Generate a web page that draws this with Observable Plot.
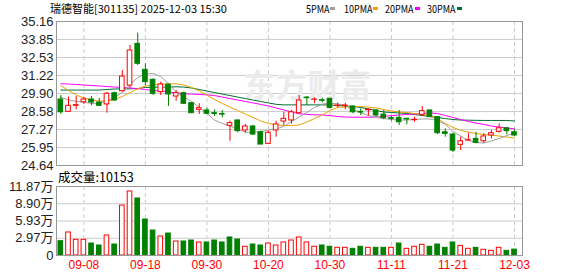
<!DOCTYPE html>
<html><head><meta charset="utf-8">
<script src="https://cdn.jsdelivr.net/npm/d3@7"></script>
<script src="https://cdn.jsdelivr.net/npm/@observablehq/plot@0.6"></script>
<style>
body{margin:0;background:#fff;}
#wrap{position:relative;width:578px;height:276px;overflow:hidden;font-family:"Noto Sans CJK SC",sans-serif;}
#main,#vol{position:absolute;left:0;}
#main{top:0}#vol{top:176px}
.t{position:absolute;white-space:nowrap;color:#000;line-height:16px;}
.sw{position:absolute;width:5px;height:3px;top:7px;}
.sq{display:inline-block;transform:scaleX(0.82);transform-origin:left center;}
</style></head><body><div id="wrap">
<div id="main"></div><div id="vol"></div>
<div class="t" style="left:50px;top:0;font-size:11px;">瑞德智能[301135] 2025-12-03 15:30</div>
<div class="t" style="left:306px;top:0;font-size:11px;"><span class="sq">5PMA</span></div>
<div class="sw" style="left:330px;background:#a0a0a0"></div>
<div class="t" style="left:344px;top:0;font-size:11px;"><span class="sq">10PMA</span></div>
<div class="sw" style="left:373px;background:#f0a000"></div>
<div class="t" style="left:385px;top:0;font-size:11px;"><span class="sq">20PMA</span></div>
<div class="sw" style="left:415px;background:#ff00ff"></div>
<div class="t" style="left:427px;top:0;font-size:11px;"><span class="sq">30PMA</span></div>
<div class="sw" style="left:457px;background:#006e30"></div>
<div class="t" style="left:58px;top:169px;font-size:12.5px;">成交量:10153</div>
</div>
<script>
const dates = ["09-03","09-04","09-05","09-08","09-09","09-10","09-11","09-12","09-15","09-16",
"09-17","09-18","09-19","09-22","09-23","09-24","09-25","09-26","09-29","09-30",
"10-09","10-10","10-13","10-14","10-15","10-16","10-17","10-20","10-21","10-22",
"10-23","10-24","10-27","10-28","10-29","10-30","10-31","11-03","11-04","11-05",
"11-06","11-07","11-10","11-11","11-12","11-13","11-14","11-17","11-18","11-19",
"11-20","11-21","11-24","11-25","11-26","11-27","11-28","12-01","12-02","12-03"];
const xTickLabels = ["09-08","09-18","09-30","10-20","10-30","11-11","11-21","12-03"];
const open  = [29.46,28.56,29.00,29.26,29.46,29.24,29.10,29.92,30.07,30.48,
33.53,31.63,30.90,30.00,30.54,29.68,29.92,29.19,28.71,28.66,
28.46,28.40,27.54,27.93,27.20,27.49,27.07,26.22,27.20,27.85,
27.93,28.46,29.60,29.44,29.41,29.51,28.98,28.98,28.95,28.56,
28.68,28.66,28.36,28.10,28.12,28.05,27.95,28.34,28.66,28.17,
27.07,26.90,26.15,26.46,26.58,26.41,26.83,27.10,27.36,27.07];
const high  = [29.75,29.63,29.68,29.63,29.68,29.53,30.00,30.00,31.58,33.41,
34.31,32.07,30.97,30.73,30.61,30.12,30.00,29.24,29.15,28.83,
28.71,28.66,27.88,27.98,27.64,27.58,27.15,27.15,27.88,28.53,
28.66,29.75,29.68,29.58,29.56,29.56,29.19,29.19,29.02,28.78,
28.78,28.71,28.66,28.22,28.66,28.10,28.17,28.95,28.71,28.22,
27.32,27.00,26.71,27.00,27.07,26.97,27.20,27.68,27.36,27.25];
const low   = [28.37,28.56,28.71,29.10,29.00,28.95,28.46,29.34,30.00,30.30,
31.94,30.48,29.75,29.75,28.95,29.34,29.10,28.44,28.37,28.37,
28.22,28.12,26.41,27.03,27.00,26.83,26.17,26.22,26.71,27.56,
27.68,28.41,29.02,29.15,29.22,28.78,28.85,28.71,28.41,28.29,
28.24,28.17,27.98,27.88,27.56,27.61,27.80,28.22,28.17,26.90,
26.71,25.58,25.73,26.46,26.22,26.27,26.59,27.00,26.88,26.78];
const close = [28.53,29.00,29.05,29.46,29.24,29.00,29.88,29.39,31.14,33.04,
32.07,30.73,29.88,30.56,29.83,29.92,29.15,28.46,28.83,28.42,
28.40,28.36,27.73,27.15,27.49,26.90,26.17,27.03,27.64,28.05,
28.53,29.39,29.56,29.46,29.37,28.85,29.02,29.02,28.53,28.51,
28.71,28.29,28.10,28.05,27.80,28.00,27.98,28.61,28.17,27.00,
26.95,25.73,26.41,26.49,26.29,26.76,27.00,27.36,27.15,26.83];
const volume = [24600,39600,27000,27000,20600,17200,34400,18900,86000,110100,
98100,61900,43000,32700,37800,24100,24100,25800,22400,22400,
25800,22400,31000,27500,15000,18900,17200,20600,17200,22400,
25800,31000,22400,15000,17200,15000,13200,13200,11500,15000,
13200,13200,13200,13200,20600,11500,15000,18400,15000,18900,
13200,22400,16600,11500,13200,9800,8000,13200,8000,10153];
const volUp = [0,1,1,1,0,0,1,0,1,1, 0,0,0,1,0,1,0,0,1,0, 0,0,0,0,1,0,0,1,1,1,
1,1,1,1,0,0,1,1,0,0, 1,0,0,1,0,1,1,1,0,0, 0,0,1,1,0,1,1,1,0,0];
const ma5 = [29.63,29.43,29.32,29.27,29.17,29.20,29.35,29.61,29.97,30.56,
31.07,31.32,31.36,31.14,30.63,30.01,29.64,29.32,28.88,28.44,
27.96,27.71,27.52,27.31,27.07,27.07,27.12,27.23,27.31,27.49,
27.85,28.18,28.51,28.88,29.13,29.19,29.15,29.02,28.73,28.51,
28.29,28.15,28.07,28.00,27.96,27.96,28.00,28.04,28.04,27.93,
27.64,27.12,26.79,26.47,26.32,26.28,26.43,26.61,26.83,27.00];
const ma10 = [30.48,30.12,29.79,29.57,29.42,29.35,29.34,29.46,29.68,29.97,
30.23,30.45,30.52,30.59,30.61,30.61,30.52,30.34,30.08,29.79,
29.46,29.17,28.91,28.66,28.40,28.15,27.89,27.71,27.60,27.56,
27.56,27.60,27.82,28.07,28.33,28.66,28.88,28.91,28.95,28.95,
28.91,28.84,28.73,28.62,28.55,28.51,28.44,28.37,28.29,28.04,
27.71,27.42,27.20,27.09,26.98,26.90,26.88,26.79,26.72,26.65];
const ma20 = [30.61,30.59,30.56,30.52,30.48,30.45,30.41,30.37,30.34,30.30,
30.26,30.19,30.12,30.08,30.01,29.94,29.88,29.86,29.83,29.80,
29.75,29.64,29.53,29.42,29.32,29.21,29.10,28.99,28.84,28.70,
28.55,28.42,28.37,28.34,28.33,28.29,28.22,28.18,28.17,28.17,
28.17,28.18,28.22,28.29,28.33,28.37,28.40,28.44,28.48,28.44,
28.29,28.15,28.00,27.85,27.74,27.64,27.52,27.45,27.38,27.32];
const ma30 = [30.15,30.15,30.15,30.15,30.15,30.15,30.19,30.23,30.24,30.24,
30.26,30.34,30.36,30.36,30.37,30.39,30.37,30.30,30.19,30.08,
29.97,29.86,29.75,29.64,29.53,29.42,29.32,29.21,29.11,29.07,
29.07,29.07,29.07,29.07,29.07,29.06,29.02,28.99,28.95,28.88,
28.77,28.66,28.55,28.51,28.48,28.44,28.37,28.29,28.22,28.15,
28.07,28.00,27.96,27.95,27.94,27.93,27.93,27.93,27.93,27.89];
const yTicks = [24.64,25.95,27.27,28.58,29.90,31.22,32.53,33.85,35.16];
const volTicks = [0,29675,59350,89025,118700];
const volTickLabels = ["0","2.97万","5.93万","8.90万","11.87万"];

const RED = "#ff0000", GREEN = "#008000";
const candles = dates.map((d,i)=>({i, d, o:open[i], h:high[i], l:low[i], c:close[i], up: close[i] >= open[i]}));
const vols = dates.map((d,i)=>({i, v:volume[i], up: volUp[i]===1}));
const tickIdx = xTickLabels.map(t=>dates.indexOf(t));
const maSeries = (arr)=>arr.map((v,i)=>({i, v}));
const xScale = {type:"linear", domain:[-0.56, 60.04]};
const hw = 0.3;
const font = "'Liberation Sans','Noto Sans CJK SC',sans-serif";

const main = Plot.plot({
  width:578, height:176, marginTop:21, marginBottom:11, marginLeft:56, marginRight:56,
  x:{...xScale, axis:null, label:null},
  y:{domain:[24.64,35.16], label:null},
  style:{fontFamily:font, background:"transparent", overflow:"visible"},
  marks:[
    Plot.ruleY(yTicks,{stroke:"#cccccc"}),
    Plot.ruleX(tickIdx,{stroke:"#cccccc", strokeDasharray:"4,3"}),
    Plot.text(["东方财富"],{frameAnchor:"middle", dx:18, dy:-7, fontSize:32, fontWeight:"bold", fill:"#ebebeb", fontFamily:"'Noto Sans CJK SC'", style:"letter-spacing:4px"}),
    Plot.line(maSeries(ma30),{x:"i", y:"v", stroke:"#006e30", strokeWidth:1}),
    Plot.line(maSeries(ma20),{x:"i", y:"v", stroke:"#ff00ff", strokeWidth:1}),
    Plot.line(maSeries(ma10),{x:"i", y:"v", stroke:"#f0a000", strokeWidth:1}),
    Plot.line(maSeries(ma5),{x:"i", y:"v", stroke:"#a0a0a0", strokeWidth:1}),
    Plot.ruleX(candles,{x:"i", y1:"l", y2:"h", stroke:d=>d.up?RED:GREEN}),
    Plot.rect(candles,{x1:d=>d.i-hw, x2:d=>d.i+hw, y1:d=>Math.min(d.o,d.c), y2:d=>Math.max(d.o,d.c),
      fill:d=>d.up?"white":GREEN, stroke:d=>d.up?RED:GREEN, strokeWidth:1}),
    Plot.axisY(yTicks,{label:null, tickSize:0, tickPadding:3, fontSize:13, fill:"#222", tickFormat:d=>d.toFixed(2)}),
    Plot.frame({stroke:"#999999"})
  ]
});
document.getElementById("main").appendChild(main);

const vol = Plot.plot({
  width:578, height:100, marginTop:10, marginBottom:21, marginLeft:56, marginRight:56,
  x:{...xScale, label:null},
  y:{domain:[0,118700], label:null},
  style:{fontFamily:font, background:"transparent", overflow:"visible"},
  marks:[
    Plot.ruleY(volTicks,{stroke:"#cccccc"}),
    Plot.ruleX(tickIdx,{stroke:"#cccccc", strokeDasharray:"4,3"}),
    Plot.rect(vols,{x1:d=>d.i-hw, x2:d=>d.i+hw, y1:0, y2:"v",
      fill:d=>d.up?"white":GREEN, stroke:d=>d.up?RED:GREEN, strokeWidth:1}),
    Plot.axisY(volTicks,{label:null, tickSize:0, tickPadding:3, fontSize:13, fill:"#222", tickFormat:d=>volTickLabels[volTicks.indexOf(d)]}),
    Plot.axisX(tickIdx,{label:null, tickSize:0, tickPadding:5, fontSize:12, fill:RED, tickFormat:i=>dates[i]}),
    Plot.frame({stroke:"#999999"})
  ]
});
document.getElementById("vol").appendChild(vol);
</script></body></html>
